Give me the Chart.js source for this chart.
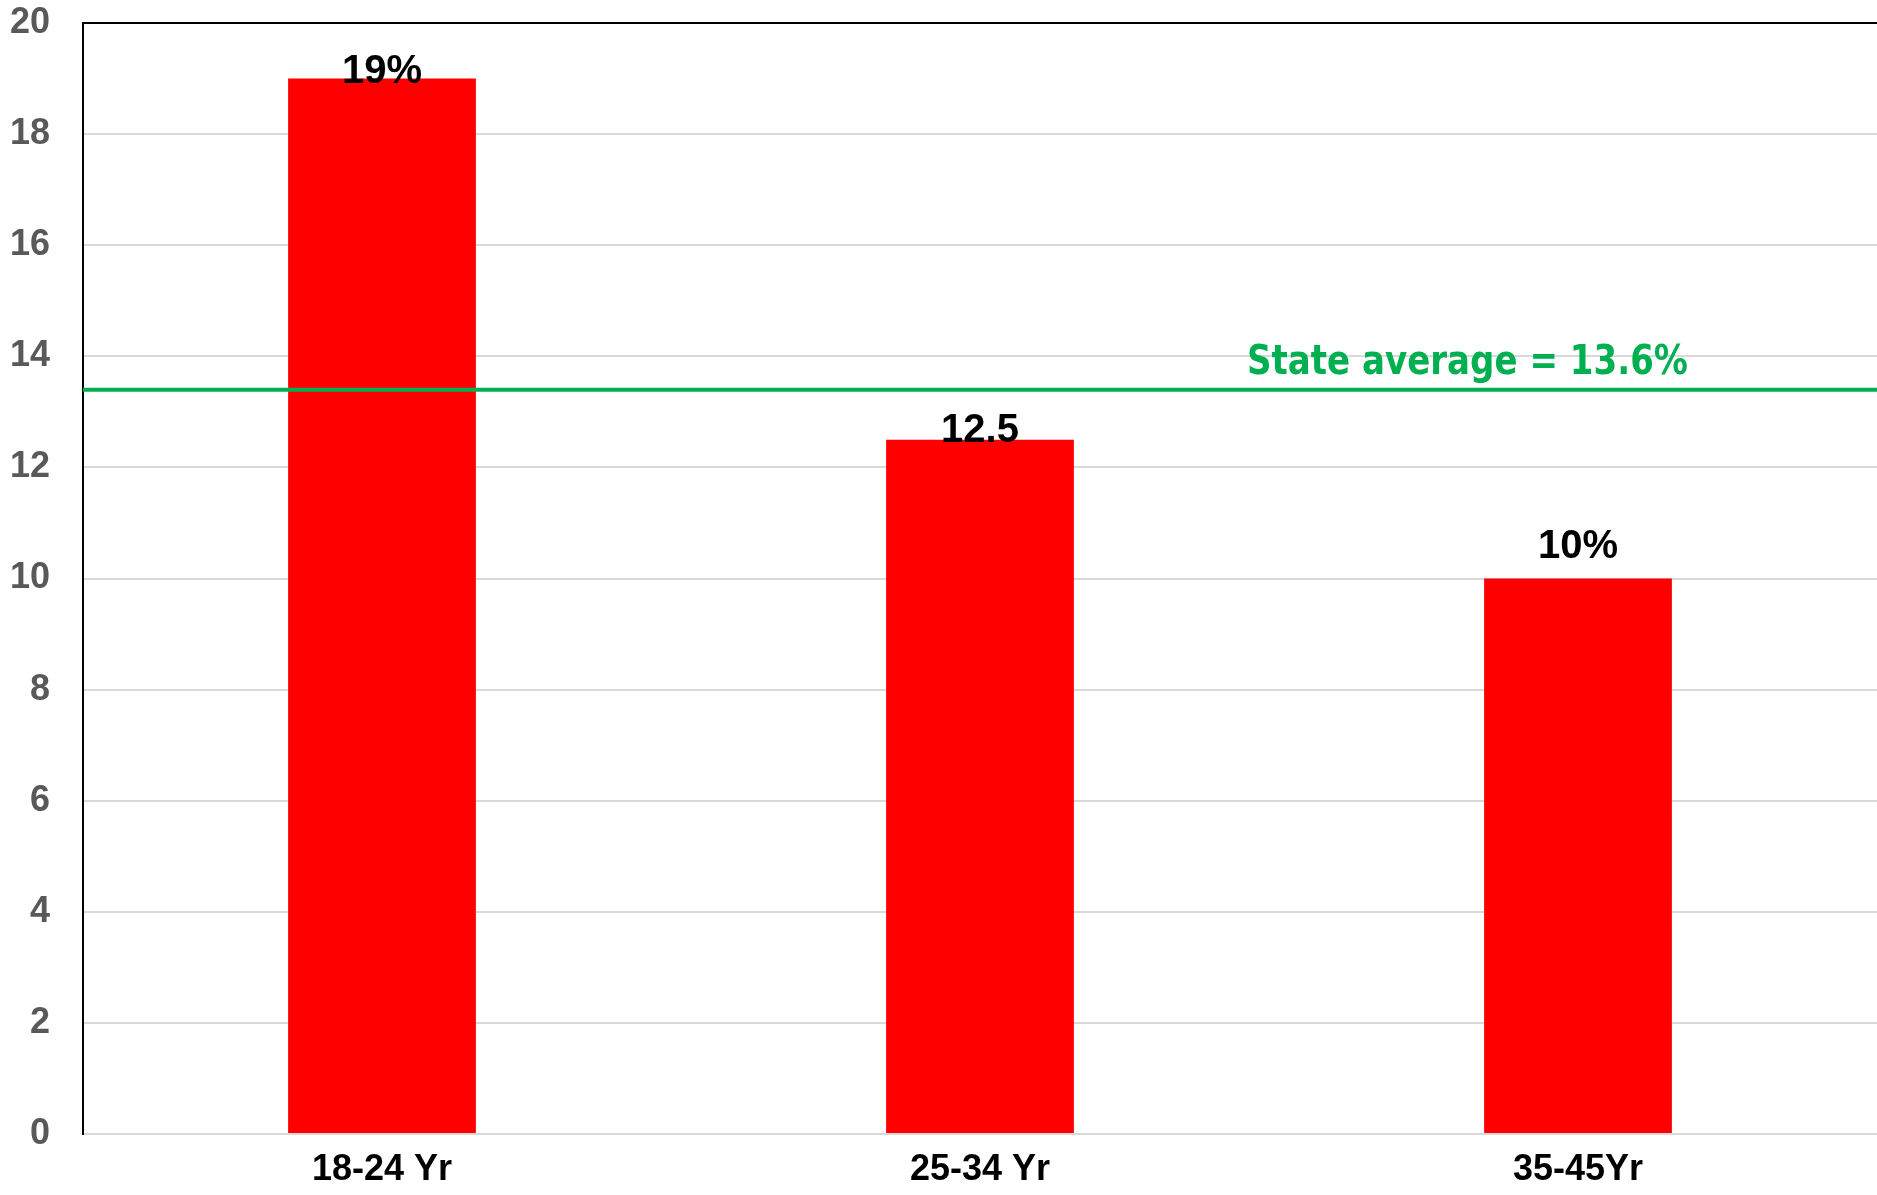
<!DOCTYPE html>
<html>
<head>
<meta charset="utf-8">
<script src="https://cdn.jsdelivr.net/npm/chart.js@4/dist/chart.umd.min.js"></script>
<style>
  html, body { margin: 0; padding: 0; background: #fff; }
  #wrap { width: 1877px; height: 1195px; }
</style>
</head>
<body>
<div id="wrap"><canvas id="barChart" width="1877" height="1195"></canvas></div>
<script>
const categories = ["18-24 Yr", "25-34 Yr", "35-45Yr"];
const values = [19, 12.5, 10];
const valueLabels = ["19%", "12.5", "10%"];
const stateAverage = 13.4; // where the green line sits
const stateLabel = "State average = 13.6%";
const yTicks = [0, 2, 4, 6, 8, 10, 12, 14, 16, 18, 20];

// Value labels above bars, and the state average line + text
const overlayPlugin = {
  id: "overlay",
  afterDatasetsDraw(chart) {
    const { ctx, chartArea } = chart;
    const y = chart.scales.y;
    const meta = chart.getDatasetMeta(0);
    const shifts = [4, 2, -21]; // baseline offset from bar top, as in the original

    ctx.save();
    ctx.fillStyle = "#000";
    ctx.font = "bold 40px 'Liberation Sans', Arial, sans-serif";
    ctx.textAlign = "center";
    ctx.textBaseline = "alphabetic";
    meta.data.forEach((bar, i) => {
      ctx.fillText(valueLabels[i], bar.x, bar.y + shifts[i]);
    });

    // green average line across the whole plot
    const ly = y.getPixelForValue(stateAverage);
    ctx.strokeStyle = "#00B050";
    ctx.lineWidth = 4;
    ctx.beginPath();
    ctx.moveTo(chartArea.left, ly);
    ctx.lineTo(chartArea.right, ly);
    ctx.stroke();

    // squeeze the text a bit, the original font is narrower (Tahoma-like)
    ctx.fillStyle = "#00B050";
    ctx.font = "bold 41px 'DejaVu Sans', sans-serif";
    ctx.textAlign = "left";
    const w = ctx.measureText(stateLabel).width;
    const sx = 441 / w;
    ctx.translate(1247, ly - 16);
    ctx.scale(sx, 1);
    ctx.fillText(stateLabel, 0, 0);
    ctx.restore();
  },
};

const ctx = document.getElementById("barChart").getContext("2d");
new Chart(ctx, {
  type: "bar",
  data: {
    labels: categories,
    datasets: [
      {
        data: values,
        backgroundColor: "#FF0000",
        borderWidth: 0,
        barPercentage: 1,
        categoryPercentage: 0.314,
      },
    ],
  },
  options: {
    responsive: false,
    animation: false,
    layout: { padding: { top: 23, right: 0, left: 0, bottom: 0 } },
    plugins: {
      legend: { display: false },
      tooltip: { enabled: false },
    },
    scales: {
      x: {
        grid: { display: false, drawTicks: false },
        border: { color: "#d9d9d9", width: 2 },
        ticks: {
          color: "#000",
          padding: 14,
          font: { family: "'Liberation Sans', Arial, sans-serif", size: 36, weight: "bold" },
        },
        afterFit: (scale) => {
          scale.height = 61;
          scale.paddingLeft = 0;
          scale.paddingRight = 0;
        },
      },
      y: {
        min: 0,
        max: 20,
        afterBuildTicks: (scale) => { scale.ticks = yTicks.map((v) => ({ value: v })); },
        grid: {
          drawTicks: false,
          lineWidth: 2,
          color: (c) => (c.tick && c.tick.value === 20 ? "#000" : "#d9d9d9"),
        },
        border: { color: "#000", width: 2 },
        ticks: {
          color: "#595959",
          padding: 33,
          font: { family: "'Liberation Sans', Arial, sans-serif", size: 36, weight: "bold" },
        },
        afterFit: (scale) => {
          scale.width = 83;
          scale.paddingTop = 0;
          scale.paddingBottom = 0;
        },
      },
    },
  },
  plugins: [overlayPlugin],
});
</script>
</body>
</html>
